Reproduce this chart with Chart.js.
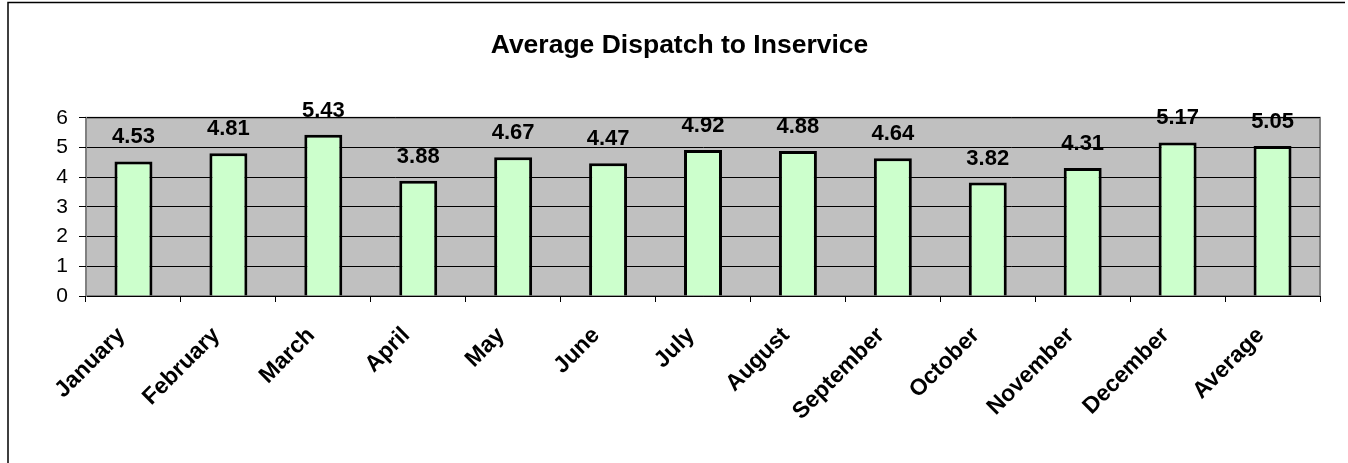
<!DOCTYPE html>
<html>
<head>
<meta charset="utf-8">
<script src="https://cdn.jsdelivr.net/npm/chart.js@4/dist/chart.umd.min.js"></script>
<style>
    html, body { margin: 0; padding: 0; background: #fff; }
    #wrap { width: 1348px; height: 463px; }
</style>
</head>
<body>
<div id="wrap"><canvas id="dispatchChart" width="1348" height="463"></canvas></div>
<script>
const months = ['January', 'February', 'March', 'April', 'May', 'June', 'July', 'August',
    'September', 'October', 'November', 'December', 'Average'];
const dispatchTimes = [4.53, 4.81, 5.43, 3.88, 4.67, 4.47, 4.92, 4.88, 4.64, 3.82, 4.31, 5.17, 5.05];
const yTicks = [0, 1, 2, 3, 4, 5, 6];

// gray plot area plus the outer frame
const plotBackground = {
    id: 'plotBackground',
    beforeDraw: function (chart) {
        const ctx = chart.ctx;
        const a = chart.chartArea;
        ctx.save();
        ctx.fillStyle = '#C0C0C0';
        ctx.fillRect(a.left, a.top, a.right - a.left, a.bottom - a.top);
        ctx.strokeStyle = '#808080';
        ctx.lineWidth = 2;
        ctx.strokeRect(a.left, a.top, a.right - a.left, a.bottom - a.top);
        ctx.strokeStyle = '#000';
        ctx.lineWidth = 1.5;
        ctx.beginPath();
        ctx.moveTo(8, 463);
        ctx.lineTo(8, 2.5);
        ctx.lineTo(1345, 2.5);
        ctx.stroke();
        ctx.restore();
    }
};

// value labels above each bar
const barValues = {
    id: 'barValues',
    afterDatasetsDraw: function (chart) {
        const ctx = chart.ctx;
        const meta = chart.getDatasetMeta(0);
        ctx.save();
        ctx.font = 'bold 22px "Liberation Sans", Arial, sans-serif';
        ctx.fillStyle = '#000';
        ctx.textAlign = 'center';
        ctx.textBaseline = 'alphabetic';
        meta.data.forEach(function (bar, i) {
            ctx.fillText(dispatchTimes[i].toFixed(2), bar.x, bar.y - 18);
        });
        ctx.restore();
    }
};

const dispatchChart = new Chart(document.getElementById('dispatchChart').getContext('2d'), {
    type: 'bar',
    data: {
        labels: months,
        datasets: [{
            label: 'Average Dispatch to Inservice',
            data: dispatchTimes,
            backgroundColor: '#CCFFCC',
            borderColor: '#000',
            borderWidth: 3,
            barPercentage: 0.4,
            categoryPercentage: 1.0
        }]
    },
    options: {
        responsive: false,
        animation: false,
        layout: {
            padding: { left: 39, right: 28, top: 0, bottom: 0 }
        },
        plugins: {
            legend: { display: false },
            tooltip: { enabled: false },
            title: {
                display: true,
                text: 'Average Dispatch to Inservice',
                color: '#000',
                font: { family: '"Liberation Sans", Arial, sans-serif', size: 26.5, weight: 'bold' },
                padding: { top: 30, bottom: 56 }
            }
        },
        scales: {
            x: {
                grid: {
                    offset: true,
                    drawOnChartArea: false,
                    color: '#000',
                    tickLength: 6
                },
                border: { color: '#000', width: 1 },
                ticks: {
                    color: '#000',
                    maxRotation: 45,
                    minRotation: 45,
                    padding: 20,
                    labelOffset: -12,
                    font: { family: '"Liberation Sans", Arial, sans-serif', size: 23, weight: 'bold' }
                },
                afterFit: function (scale) { scale.height = 167; }
            },
            y: {
                min: 0,
                max: 6,
                afterBuildTicks: function (scale) {
                    scale.ticks = yTicks.map(function (v) { return { value: v }; });
                },
                grid: {
                    color: '#000',
                    tickLength: 7
                },
                border: { color: '#808080', width: 1 },
                ticks: {
                    color: '#000',
                    padding: 11,
                    font: { family: '"Liberation Sans", Arial, sans-serif', size: 21 }
                },
                afterFit: function (scale) { scale.width = 47; }
            }
        }
    },
    plugins: [plotBackground, barValues]
});
</script>
</body>
</html>
